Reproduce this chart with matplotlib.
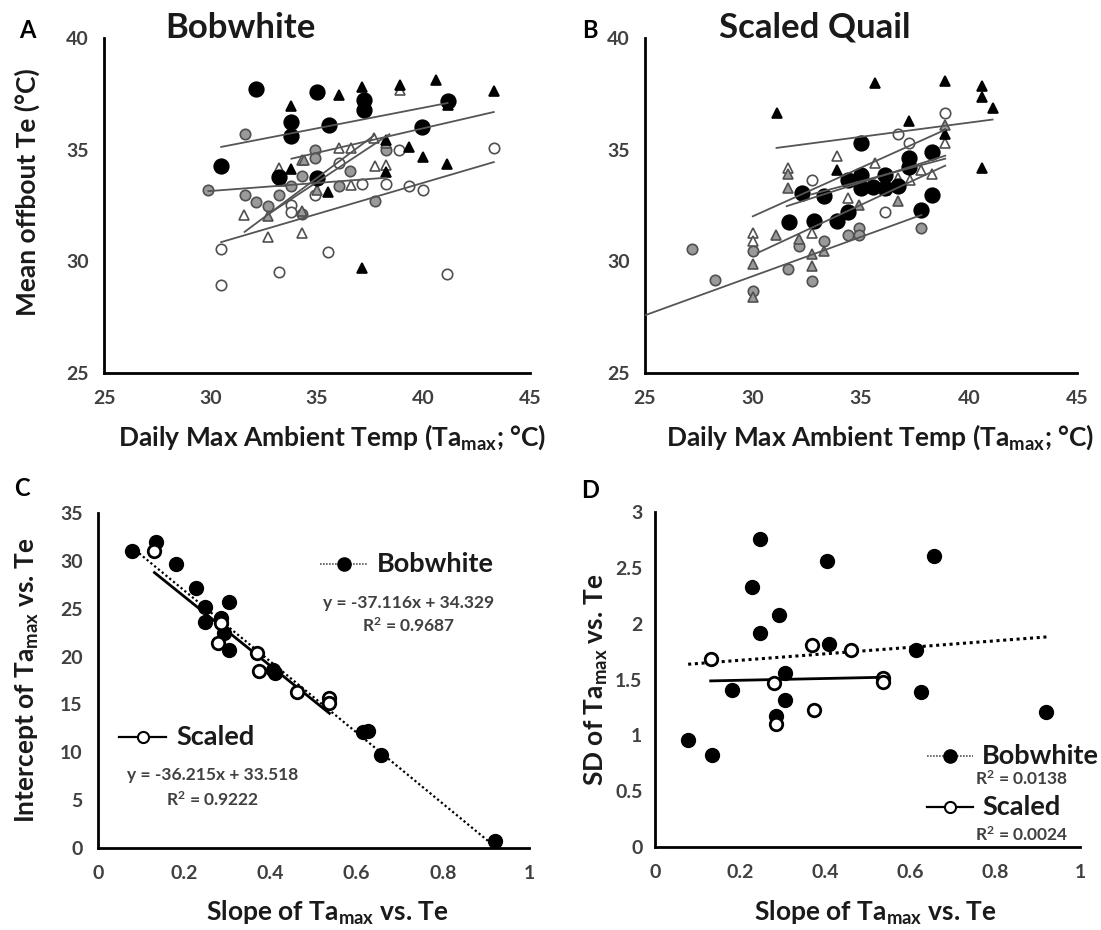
import matplotlib
matplotlib.use("Agg")
import matplotlib.pyplot as plt
from matplotlib.ticker import FuncFormatter
import numpy as np

plt.rcParams['font.family'] = ['Lato', 'DejaVu Sans']
plt.rcParams['font.weight'] = 'bold'
plt.rcParams['mathtext.fontset'] = 'custom'
plt.rcParams['mathtext.rm'] = 'Lato:bold'
plt.rcParams['mathtext.it'] = 'Lato:bold'
plt.rcParams['mathtext.bf'] = 'Lato:bold'
plt.rcParams['mathtext.default'] = 'rm'

# ---- panel A (Bobwhite): Tamax vs mean offbout Te, one marker style per bird
a_bc_x = [32.15, 34.99, 37.19, 37.19, 33.80, 33.80, 35.58, 41.13, 39.95, 30.50, 33.22, 34.99]
a_bc_y = [37.72, 37.59, 37.24, 36.77, 36.23, 35.63, 36.12, 37.17, 36.02, 34.29, 33.78, 33.71]
a_bt_x = [33.80, 36.01, 37.11, 38.88, 40.58, 43.30, 38.25, 39.32, 39.98, 41.08, 38.25, 35.51, 37.11, 33.80, 41.13]
a_bt_y = [36.94, 37.44, 37.81, 37.88, 38.14, 37.62, 35.45, 35.12, 34.66, 34.36, 34.00, 33.11, 29.68, 34.15, 37.00]
a_gc_x = [31.60, 29.90, 31.60, 32.12, 32.70, 33.22, 33.80, 34.31, 34.91, 34.91, 36.01, 36.56, 38.25, 37.71, 34.31]
a_gc_y = [35.72, 33.21, 32.95, 32.65, 32.47, 32.95, 33.36, 33.81, 35.00, 34.63, 33.39, 34.06, 35.00, 32.69, 32.10]
a_oc_x = [30.50, 30.50, 33.22, 35.51, 41.08, 43.30, 38.85, 38.25, 39.32, 39.98, 37.11, 36.01, 34.91, 33.80, 33.80]
a_oc_y = [30.56, 28.93, 29.53, 30.42, 29.44, 35.08, 35.00, 33.48, 33.39, 33.21, 33.48, 34.41, 32.99, 32.51, 32.21]
a_ot_x = [31.57, 32.70, 34.31, 33.22, 34.31, 36.01, 36.59, 37.66, 36.59, 37.71, 38.25, 38.88]
a_ot_y = [32.09, 31.09, 31.27, 34.18, 34.53, 35.08, 35.08, 35.53, 33.44, 34.29, 34.33, 37.69]
a_gt_x = [32.70, 34.31, 34.39, 33.30, 38.25, 35.00]
a_gt_y = [32.02, 32.24, 34.55, 33.60, 35.30, 33.20]
# trendlines: slope, intercept, x from, x to
a_fits = {'bc': (0.185, 29.48, 30.50, 41.13), 'bt': (0.220, 27.16, 33.80, 43.30),
          'gc': (0.072, 30.99, 29.90, 38.25), 'oc': (0.280, 22.32, 30.50, 43.30),
          'ot': (0.711, 8.85, 31.60, 37.66), 'gt': (0.630, 11.50, 32.78, 38.40)}

# ---- panel B (Scaled Quail)
b_bc_x = [35.01, 32.26, 33.31, 34.41, 35.01, 36.11, 35.56, 35.01, 36.11, 36.70, 37.20, 37.20, 38.30, 38.30, 37.80, 31.68, 32.81, 33.91, 34.41]
b_bc_y = [35.30, 33.06, 32.92, 33.63, 33.88, 33.88, 33.33, 33.29, 33.29, 33.36, 34.63, 34.23, 34.89, 32.99, 32.29, 31.75, 31.80, 31.80, 32.20]
b_bt_x = [31.09, 35.64, 38.90, 40.58, 40.58, 41.09, 40.58, 37.20, 38.90, 33.88]
b_bt_y = [36.62, 37.99, 38.06, 37.87, 37.35, 36.87, 34.18, 36.27, 35.68, 34.11]
b_gc_x = [27.16, 28.26, 29.99, 29.99, 31.64, 32.15, 32.73, 33.28, 34.38, 34.93, 34.93, 37.80]
b_gc_y = [30.56, 29.18, 30.45, 28.66, 29.66, 30.68, 29.11, 30.90, 31.20, 31.50, 31.20, 31.50]
b_oc_x = [38.90, 36.70, 37.20, 32.73, 36.11, 35.01]
b_oc_y = [36.65, 35.72, 35.30, 33.63, 32.20, 33.80]
b_ot_x = [29.99, 29.99, 33.88, 31.64, 32.73, 34.38, 35.64, 38.90, 38.30, 37.80, 36.70, 37.28]
b_ot_y = [31.27, 30.90, 34.71, 34.18, 31.25, 32.84, 34.41, 35.30, 33.89, 34.11, 33.74, 33.63]
b_gt_x = [31.64, 31.64, 29.99, 29.99, 31.05, 32.15, 32.73, 32.73, 33.28, 34.93, 36.70, 36.11, 38.90]
b_gt_y = [33.89, 33.29, 29.90, 28.41, 31.20, 31.00, 30.35, 29.78, 30.45, 32.54, 32.69, 33.21, 36.12]
b_fits = {'bt': (0.127, 31.13, 31.09, 41.09), 'ot': (0.435, 18.97, 29.99, 38.90),
          'bc': (0.308, 22.75, 31.56, 38.90), 'oc': (0.258, 24.56, 32.73, 38.90),
          'gt': (0.450, 16.78, 30.22, 38.90), 'gc': (0.351, 18.81, 25.00, 37.80)}

# ---- panels C and D: per-bird slope, intercept and SD
bob_slope = [0.078, 0.135, 0.182, 0.228, 0.248, 0.248, 0.285, 0.292, 0.305, 0.305, 0.405, 0.410, 0.615, 0.626, 0.656, 0.921]
bob_icpt = [30.98, 31.93, 29.66, 27.15, 25.23, 23.66, 24.01, 22.44, 25.65, 20.69, 18.60, 18.25, 12.14, 12.25, 9.70, 0.73]
bob_sd = [0.96, 0.82, 1.41, 2.33, 2.76, 1.92, 1.17, 2.08, 1.56, 1.32, 2.56, 1.82, 1.76, 1.39, 2.61, 1.21]
sc_slope = [0.131, 0.279, 0.285, 0.369, 0.373, 0.462, 0.537, 0.537]
sc_icpt = [30.98, 21.46, 23.48, 20.41, 18.49, 16.33, 15.70, 15.20]
sc_sd = [1.68, 1.47, 1.10, 1.81, 1.23, 1.76, 1.51, 1.48]
c_fit_bob = (-37.116, 34.329)
c_fit_sc = (-36.215, 33.518)
d_fit_bob = (0.29, 1.614)
d_fit_sc = (0.08, 1.477)

W, H = 1101, 930
fig = plt.figure(figsize=(W / 100, H / 100), dpi=100)


def px_axes(x0, y0, x1, y1):
    return fig.add_axes([x0 / W, 1 - y1 / H, (x1 - x0) / W, (y1 - y0) / H])


def ftext(x, y, s, **kw):
    kw.setdefault('ha', 'center')
    kw.setdefault('va', 'center')
    fig.text(x / W, 1 - y / H, s, **kw)


def style_axes(ax):
    for s in ['top', 'right']:
        ax.spines[s].set_visible(False)
    for s in ['left', 'bottom']:
        ax.spines[s].set_linewidth(2)
        ax.spines[s].set_color('black')
    ax.tick_params(length=0, labelsize=14, labelcolor='#404040')
    ax.tick_params(axis='x', pad=12)
    ax.tick_params(axis='y', pad=11)
    ax.xaxis.set_major_formatter(FuncFormatter(lambda v, p: '{:g}'.format(round(v, 2))))
    ax.yaxis.set_major_formatter(FuncFormatter(lambda v, p: '{:g}'.format(round(v, 2))))


styles = {
    'bc': dict(marker='o', ms=10.5, mfc='black', mec='black'),
    'bt': dict(marker='^', ms=7.5, mfc='black', mec='black'),
    'gc': dict(marker='o', ms=7.5, mfc='#9a9a9a', mec='#505050'),
    'gt': dict(marker='^', ms=7.5, mfc='#9a9a9a', mec='#505050'),
    'oc': dict(marker='o', ms=7.5, mfc='white', mec='#505050'),
    'ot': dict(marker='^', ms=7.5, mfc='white', mec='#505050'),
}


def draw_birds(ax, series, fits):
    for key, (xs, ys) in series.items():
        ax.plot(xs, ys, ls='none', mew=1.2, zorder=2, **styles[key])
    for key, (m, b, x0, x1) in fits.items():
        xx = np.array([x0, x1])
        ax.plot(xx, m * xx + b, color='#555555', lw=1.3, zorder=3)
    ax.set_xlim(25, 45)
    ax.set_ylim(25, 40)
    ax.set_xticks([25, 30, 35, 40, 45])
    ax.set_yticks([25, 30, 35, 40])
    style_axes(ax)


axA = px_axes(104, 38, 530, 373)
draw_birds(axA, {'gc': (a_gc_x, a_gc_y), 'oc': (a_oc_x, a_oc_y), 'ot': (a_ot_x, a_ot_y),
                 'gt': (a_gt_x, a_gt_y), 'bt': (a_bt_x, a_bt_y), 'bc': (a_bc_x, a_bc_y)}, a_fits)
axB = px_axes(645, 38, 1077, 373)
draw_birds(axB, {'gc': (b_gc_x, b_gc_y), 'oc': (b_oc_x, b_oc_y), 'ot': (b_ot_x, b_ot_y),
                 'gt': (b_gt_x, b_gt_y), 'bt': (b_bt_x, b_bt_y), 'bc': (b_bc_x, b_bc_y)}, b_fits)

# panel C
axC = px_axes(98, 513, 529, 848)
xb = np.array([min(bob_slope), max(bob_slope)])
axC.plot(xb, c_fit_bob[0] * xb + c_fit_bob[1], color='black', ls=(0, (1, 1.2)), lw=1.6, zorder=2)
xs = np.array([min(sc_slope), max(sc_slope)])
axC.plot(xs, c_fit_sc[0] * xs + c_fit_sc[1], color='black', lw=2, zorder=2)
axC.plot(bob_slope, bob_icpt, 'o', ms=10, mfc='black', mec='black', zorder=3)
axC.plot(sc_slope, sc_icpt, 'o', ms=9, mfc='white', mec='black', mew=2, zorder=4)
axC.set_xlim(0, 1)
axC.set_ylim(0, 35)
axC.set_xticks([0, 0.2, 0.4, 0.6, 0.8, 1])
axC.set_yticks(range(0, 36, 5))
style_axes(axC)

# panel D
axD = px_axes(655, 512, 1080, 847)
axD.plot(xb, d_fit_bob[0] * xb + d_fit_bob[1], color='black', ls=(0, (1, 1.2)), lw=2.2, zorder=2)
axD.plot(xs, d_fit_sc[0] * xs + d_fit_sc[1], color='black', lw=2, zorder=2)
axD.plot(bob_slope, bob_sd, 'o', ms=10, mfc='black', mec='black', zorder=3)
axD.plot(sc_slope, sc_sd, 'o', ms=9, mfc='white', mec='black', mew=2, zorder=4)
axD.set_xlim(0, 1)
axD.set_ylim(0, 3)
axD.set_xticks([0, 0.2, 0.4, 0.6, 0.8, 1])
axD.set_yticks([0, 0.5, 1, 1.5, 2, 2.5, 3])
style_axes(axD)
axD.tick_params(axis='y', pad=9)


# hand placed legend entries (figure pixels)
def legend_item(x0, x1, y, dotted, filled, label, tx):
    fl = dict(color='#555555', lw=1.2, ls=(0, (1, 0.8))) if dotted else dict(color='black', lw=1.6)
    fig.add_artist(plt.Line2D([x0 / W, x1 / W], [1 - y / H, 1 - y / H], transform=fig.transFigure, **fl))
    fig.add_artist(plt.Line2D([(x0 + x1) / 2 / W], [1 - y / H], transform=fig.transFigure,
                              marker='o', ms=9 if filled else 8, mfc='black' if filled else 'white',
                              mec='black', mew=1.5))
    ftext(tx, y, label, ha='left', fontsize=19.5, color='#1a1a1a')


legend_item(320, 367, 564, True, True, 'Bobwhite', 377)
ftext(409, 603, 'y = -37.116x + 34.329', fontsize=12.5, color='#404040')
ftext(409, 626, 'R$^2$ = 0.9687', fontsize=12.5, color='#404040')
legend_item(119, 166, 737, False, False, 'Scaled', 176)
ftext(213, 775, 'y = -36.215x + 33.518', fontsize=12.5, color='#404040')
ftext(213, 800, 'R$^2$ = 0.9222', fontsize=12.5, color='#404040')

legend_item(927, 973, 756, True, True, 'Bobwhite', 982)
ftext(1022, 779, 'R$^2$ = 0.0138', fontsize=12.5, color='#404040')
legend_item(927, 973, 807, False, False, 'Scaled', 982)
ftext(1022, 835, 'R$^2$ = 0.0024', fontsize=12.5, color='#404040')

# titles, panel letters, axis labels
ftext(240, 28, 'Bobwhite', fontsize=25, color='#1a1a1a')
ftext(815, 28, 'Scaled Quail', fontsize=25, color='#1a1a1a')
ftext(27, 30, 'A', fontsize=17)
ftext(590, 30, 'B', fontsize=17)
ftext(22, 488, 'C', fontsize=17)
ftext(590, 490, 'D', fontsize=17)

lab = dict(fontsize=19, color='#1a1a1a')
ftext(27, 192, 'Mean offbout Te (°C)', rotation=90, **lab)
ftext(332, 437, 'Daily Max Ambient Temp (Ta$_{max}$; °C)', **lab)
ftext(880, 437, 'Daily Max Ambient Temp (Ta$_{max}$; °C)', **lab)
ftext(27, 680, 'Intercept of Ta$_{max}$ vs. Te', rotation=90, **lab)
ftext(327, 913, 'Slope of Ta$_{max}$ vs. Te', **lab)
ftext(596, 680, 'SD of Ta$_{max}$ vs. Te', rotation=90, **lab)
ftext(875, 913, 'Slope of Ta$_{max}$ vs. Te', **lab)

fig.savefig('out.png', dpi=100)
